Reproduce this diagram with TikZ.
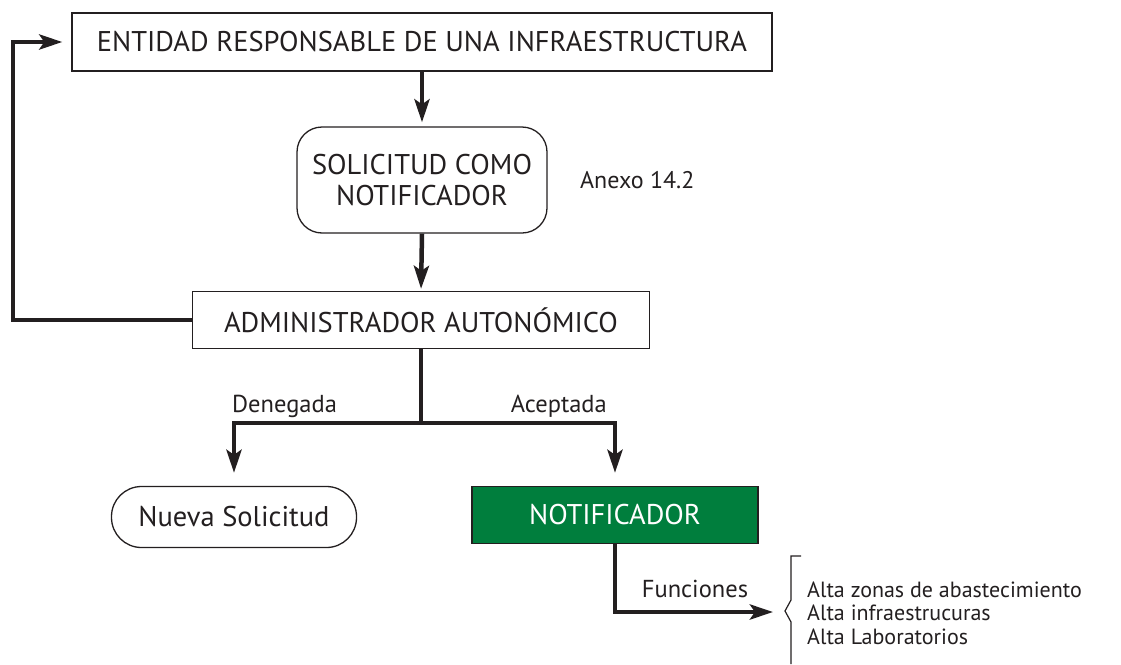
\documentclass[tikz,border=0pt]{standalone}
\usepackage{fontspec}
\setmainfont{PT Sans}
\usetikzlibrary{arrows.meta}
\definecolor{verde}{RGB}{0,126,61}
\definecolor{tinta}{RGB}{35,31,32}
\tikzset{
  caja/.style={draw=tinta, line width=1.3pt, minimum height=57pt, inner sep=0pt,
    font=\fontsize{28.5}{31}\selectfont, text=tinta},
  flecha/.style={draw=tinta, line width=4.5pt, -{Stealth[length=23pt,width=15pt,inset=5pt]}},
  etiq/.style={font=\fontsize{24.5}{28}\selectfont, text=tinta, inner sep=0pt},
}
\begin{document}
\begin{tikzpicture}[x=1pt,y=-1pt]
\useasboundingbox (0,0) rectangle (1121,664);
\node[caja, minimum width=700pt, minimum height=58pt] (ent) at (422,42){ENTIDAD RESPONSABLE DE UNA INFRAESTRUCTURA};
\node[caja, rounded corners=25pt, minimum width=250pt, minimum height=106pt, align=center] (sol) at (422,180){SOLICITUD COMO\\NOTIFICADOR};
\node[etiq, font=\fontsize{24}{28}\selectfont, anchor=base west] (anexo) at (580,188){Anexo 14.2};
\node[caja, minimum width=457pt] (adm) at (421,320){ADMINISTRADOR AUTONÓMICO};
\node[caja, rounded corners=30pt, minimum width=245pt, minimum height=61pt] (nueva) at (234,517){Nueva Solicitud};
\node[caja, fill=verde, text=white, minimum width=286pt] (notif) at (615,515){NOTIFICADOR};
\coordinate (izq) at (13,320);
\coordinate (cruce) at (421,423);
\coordinate (fin) at (773,612);
\draw[flecha, shorten >=4pt] (ent.south) -- (sol.north);
\draw[flecha, shorten >=2pt] (sol.south) -- (adm.north);
\draw[flecha, shorten >=9pt] (adm.west) -- (izq) |- (ent.west);
\draw[draw=tinta, line width=4.5pt] (adm.south) -- (cruce);
\draw[flecha, shorten >=13pt] (cruce) -| (nueva.north);
\draw[flecha, shorten >=13pt] (cruce) -| (notif.north);
\draw[flecha] (notif.south) |- (fin);
\node[etiq, anchor=base west] (deneg) at (232,412){Denegada};
\node[etiq, anchor=base east] (acept) at (607,412){Aceptada};
\node[etiq, anchor=base] (func) at (695,597){Funciones};
% llave
\draw[tinta, line width=1.2pt] (801,556) -- (791,556) -- (791,600) -- (785,611) -- (791,622) -- (791,664);
\node[etiq, font=\fontsize{22}{23.5}\selectfont, align=left, anchor=west] (lista) at (807,613){Alta zonas de abastecimiento\\Alta infraestrucuras\\Alta Laboratorios};
\end{tikzpicture}
\end{document}
